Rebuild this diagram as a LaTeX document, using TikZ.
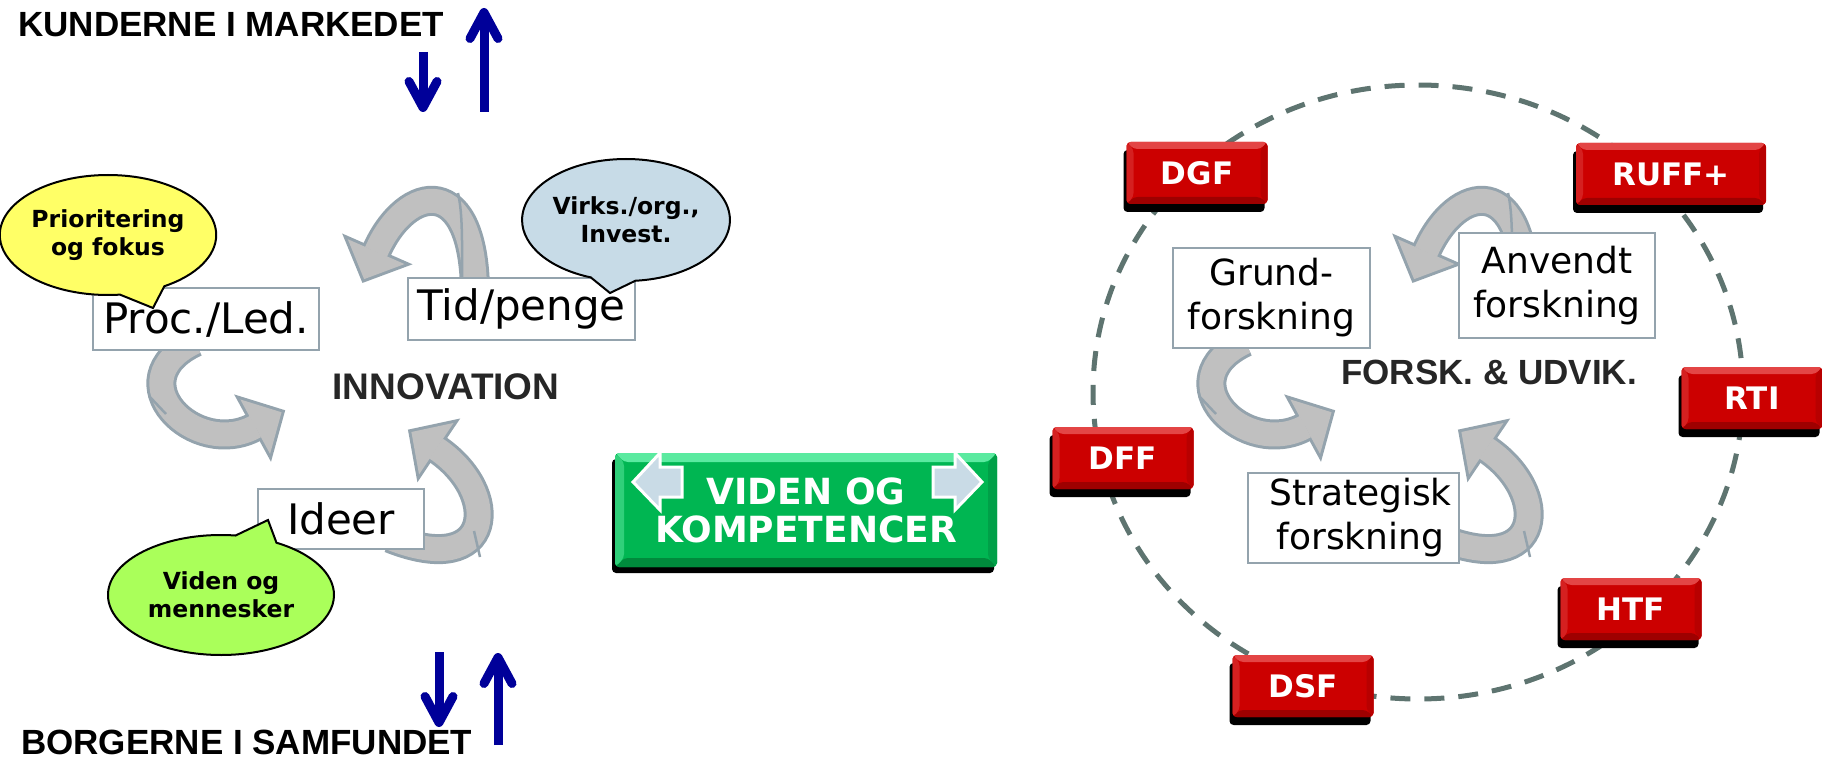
\documentclass[tikz,border=0pt]{standalone}
\usepackage{fontspec}
\setmainfont{DejaVu Sans}
\newfontfamily\libsans{Liberation Sans}
\usetikzlibrary{shapes.callouts,decorations.markings,arrows.meta,shadows}

\definecolor{ArrFill}{HTML}{C0C0C0}
\definecolor{ArrLine}{HTML}{94A3AD}
\definecolor{BoxLine}{HTML}{94A3AD}
\definecolor{Navy}{HTML}{000099}
\definecolor{DashCol}{HTML}{5E7470}
\definecolor{RedFace}{HTML}{CC0000}
\definecolor{RedTop}{HTML}{E34545}
\definecolor{RedLeft}{HTML}{D52020}
\definecolor{RedRight}{HTML}{B80000}
\definecolor{RedBot}{HTML}{9E0000}
\definecolor{GrFace}{HTML}{00B652}
\definecolor{GrTop}{HTML}{5BEAA0}
\definecolor{GrLeft}{HTML}{30D07A}
\definecolor{GrRight}{HTML}{00A048}
\definecolor{GrBot}{HTML}{008A3C}
\definecolor{BubY}{HTML}{FFFF66}
\definecolor{BubG}{HTML}{AAFF5A}
\definecolor{BubB}{HTML}{C7DBE7}
\definecolor{TipBlue}{HTML}{C9DBE6}
\definecolor{TitleGray}{HTML}{262626}

\newcommand\myribbon[1]{%
  \draw[line width=30pt, draw=ArrLine, postaction={decorate},
    decoration={markings, mark=at position 0.998 with {\filldraw[fill=ArrLine, draw=ArrLine, line width=6pt, line join=miter] (0pt,-31pt) -- (30pt,0pt) -- (0pt,31pt) -- cycle;}}] #1;
  \draw[line width=24pt, draw=ArrFill, postaction={decorate},
    decoration={markings, mark=at position 0.998 with {\fill[ArrFill] (0pt,-31pt) -- (30pt,0pt) -- (0pt,31pt) -- cycle;}}] #1;
}

\tikzset{
  lbl/.style={draw=BoxLine, line width=2.5pt, fill=white, inner sep=0pt, align=center,
    font=\fontsize{42pt}{44pt}\selectfont},
  lblr/.style={lbl, font=\fontsize{36pt}{44pt}\selectfont},
  fold/.style={draw=ArrLine, line width=2.5pt},
  bubble/.style={ellipse callout, draw=black, line width=2pt, inner sep=0pt, align=center,
    font=\bfseries\fontsize{23.5pt}{28pt}\selectfont},
  title/.style={inner sep=0pt, font=\libsans\bfseries\fontsize{35pt}{35pt}\selectfont},
  navyarrow/.style={draw=Navy, line width=9pt, -{Straight Barb[length=26pt,width=28pt,round]}},
  redbox/.style={rounded corners=4pt, minimum width=141pt, minimum height=62pt, inner sep=0pt,
    fill=RedFace, text=white, font=\bfseries\fontsize{31pt}{31pt}\selectfont,
    drop shadow={shadow xshift=-3pt, shadow yshift=-8pt, opacity=1, fill=black},
    path picture={
      \fill[RedTop] (path picture bounding box.north west) -- (path picture bounding box.north east)
        -- ([shift={(-7pt,-7pt)}]path picture bounding box.north east) -- ([shift={(7pt,-7pt)}]path picture bounding box.north west) -- cycle;
      \fill[RedBot] (path picture bounding box.south west) -- (path picture bounding box.south east)
        -- ([shift={(-7pt,7pt)}]path picture bounding box.south east) -- ([shift={(7pt,7pt)}]path picture bounding box.south west) -- cycle;
      \fill[RedLeft] (path picture bounding box.north west) -- ([shift={(7pt,-7pt)}]path picture bounding box.north west)
        -- ([shift={(7pt,7pt)}]path picture bounding box.south west) -- (path picture bounding box.south west) -- cycle;
      \fill[RedRight] (path picture bounding box.north east) -- ([shift={(-7pt,-7pt)}]path picture bounding box.north east)
        -- ([shift={(-7pt,7pt)}]path picture bounding box.south east) -- (path picture bounding box.south east) -- cycle;
    }},
  greenbox/.style={rounded corners=4pt, minimum width=382pt, minimum height=114pt, inner sep=0pt,
    fill=GrFace, text=white, align=center, font=\bfseries\fontsize{36pt}{38pt}\selectfont,
    drop shadow={shadow xshift=-3pt, shadow yshift=-6pt, opacity=1, fill=black},
    path picture={
      \fill[GrTop] (path picture bounding box.north west) -- (path picture bounding box.north east)
        -- ([shift={(-9pt,-9pt)}]path picture bounding box.north east) -- ([shift={(9pt,-9pt)}]path picture bounding box.north west) -- cycle;
      \fill[GrBot] (path picture bounding box.south west) -- (path picture bounding box.south east)
        -- ([shift={(-9pt,9pt)}]path picture bounding box.south east) -- ([shift={(9pt,9pt)}]path picture bounding box.south west) -- cycle;
      \fill[GrLeft] (path picture bounding box.north west) -- ([shift={(9pt,-9pt)}]path picture bounding box.north west)
        -- ([shift={(9pt,9pt)}]path picture bounding box.south west) -- (path picture bounding box.south west) -- cycle;
      \fill[GrRight] (path picture bounding box.north east) -- ([shift={(-9pt,-9pt)}]path picture bounding box.north east)
        -- ([shift={(-9pt,9pt)}]path picture bounding box.south east) -- (path picture bounding box.south east) -- cycle;
    }},
  blockarrow/.style={fill=TipBlue, draw=white, line width=3pt, line join=miter}
}

\begin{document}
\begin{tikzpicture}[x=1pt, y=-1pt]
\useasboundingbox (0,0) rectangle (1822,759);

% ---------- titles and navy arrows ----------
\node[title, anchor=base west] (kund) at (18,37) {KUNDERNE I MARKEDET};
\node[title, anchor=base west] (borg) at (21,754) {BORGERNE I SAMFUNDET};
\coordinate (kd1) at (423,52);  \coordinate (kd2) at (423,112);
\coordinate (ku1) at (484,112); \coordinate (ku2) at (484,8);
\coordinate (bd1) at (439,652); \coordinate (bd2) at (439,727);
\coordinate (bu1) at (498,745); \coordinate (bu2) at (498,653);
\draw[navyarrow] (kd1) -- (kd2);
\draw[navyarrow] (ku1) -- (ku2);
\draw[navyarrow] (bd1) -- (bd2);
\draw[navyarrow] (bu1) -- (bu2);

% ---------- dashed circle ----------
\draw[DashCol, line width=5pt, dash pattern=on 20pt off 14pt] (1418,392) ellipse [x radius=325pt, y radius=307pt];

% ---------- curved ribbon arrows ----------
\foreach \dx in {0,1050} {
\begin{scope}[xshift=\dx pt]
  \myribbon{(475,300) .. controls (477,170) and (406,183) .. (376,252)}
  \myribbon{(195,342) .. controls (115,380) and (195,460) .. (255.5,426.5)}
  \myribbon{(390,538) .. controls (495,580) and (502,492.5) .. (436,448.5)}
  \draw[fold] (462,295) .. controls (462,245) and (463,215) .. (458,193);
  \draw[fold] (149,396) -- (166,414);
  \draw[fold] (474,531) -- (480,557);
\end{scope}
}

% ---------- label boxes ----------
\node[lbl, minimum width=226pt, minimum height=62pt] (proc) at (206,319) {Proc./Led.};
\node[lbl, minimum width=227pt, minimum height=62pt] (tid) at (521.5,309) {Tid/penge};
\node[lbl, minimum width=166pt, minimum height=60pt] (ideer) at (341,519) {Ideer};
\node[lblr, minimum width=197pt, minimum height=100pt] (grund) at (1271.5,298) {Grund-\\forskning};
\node[lblr, minimum width=196pt, minimum height=105pt] (anv) at (1557,285.5) {Anvendt\\forskning};
\node[lblr, minimum width=211pt, minimum height=90pt] (strat) at (1353.5,518) {\hspace*{14pt}Strategisk\\\hspace*{14pt}forskning};

% ---------- centre titles ----------
\node[inner sep=0pt, text=TitleGray, font=\libsans\bfseries\fontsize{37pt}{37pt}\selectfont] (innov) at (446,387) {INNOVATION};
\node[inner sep=0pt, text=TitleGray, font=\libsans\bfseries\fontsize{35pt}{35pt}\selectfont] (forsk) at (1489,372) {FORSK. \& UDVIK.};

% ---------- speech bubbles ----------
\node[bubble, fill=BubY, minimum width=210pt, minimum height=120pt, callout absolute pointer={(153,308)}, callout pointer arc=25] (prio) at (108,235) {Prioritering\\og fokus};
\node[bubble, fill=BubB, minimum width=166pt, minimum height=122pt, callout absolute pointer={(610,293)}, callout pointer arc=25] (virk) at (626,220) {Virks./org.,\\Invest.};
\node[bubble, fill=BubG, minimum width=226pt, minimum height=120pt, callout absolute pointer={(268,520)}, callout pointer arc=22] (vid) at (221,595) {Viden og\\mennesker};

% ---------- green box ----------
\node[greenbox] (vok) at (806,510) {VIDEN OG\\KOMPETENCER};
\draw[blockarrow] (633,482) -- (660,453) -- (660,467) -- (682,467) -- (682,497) -- (660,497) -- (660,510) -- cycle;
\draw[blockarrow] (982,482) -- (955,453) -- (955,467) -- (933,467) -- (933,497) -- (955,497) -- (955,510) -- cycle;

% ---------- red boxes ----------
\node[redbox] (dgf) at (1197,173) {DGF};
\node[redbox, minimum width=190pt] (ruff) at (1671,174) {RUFF+};
\node[redbox] (rti) at (1752,398) {RTI};
\node[redbox] (dff) at (1123,458) {DFF};
\node[redbox] (htf) at (1631,609) {HTF};
\node[redbox] (dsf) at (1303,686) {DSF};
\end{tikzpicture}
\end{document}
